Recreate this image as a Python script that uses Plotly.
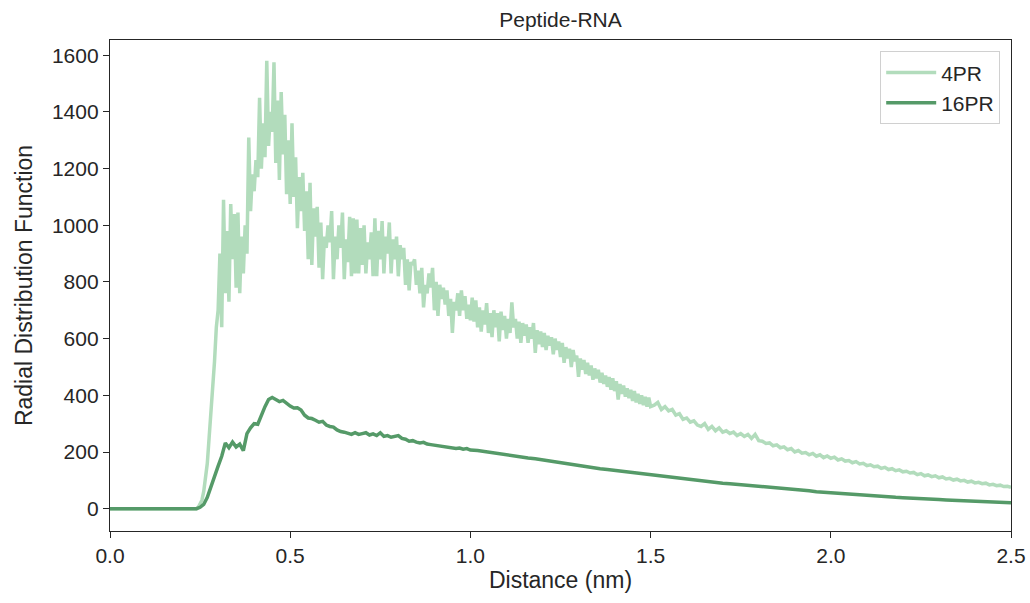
import numpy as np
import plotly.graph_objects as go

# radial distribution function
# 4PR: flat part, dense part (0.245-1.0 nm, step 0.005),
#      mid tail (1.005-1.5 nm, step 0.005), far tail (1.51-2.5 nm, step 0.01)
x_4pr_flat = [0.0, 0.24]
rdf_4pr_flat = [0, 0]
rdf_4pr_peak = [
    5, 15, 30, 60, 110, 160, 250, 330, 420, 520,
    640, 700, 900, 640, 1090, 760, 980, 730, 1075, 880,
    1040, 780, 1045, 760, 960, 830, 1000, 900, 1310, 1050,
    1180, 1120, 1230, 1170, 1450, 1200, 1360, 1240, 1580, 1280,
    1400, 1330, 1575, 1220, 1440, 1160, 1470, 1250, 1390, 1110,
    1300, 1075, 1360, 1100, 1240, 990, 1170, 1050, 1185, 980,
    1120, 880, 1150, 860, 1060, 960, 1065, 850, 1010, 810,
    960, 920, 1000, 940, 1050, 810, 960, 880, 1000, 920,
    1045, 810, 950, 870, 1030, 820, 1025, 830, 1020, 830,
    990, 860, 1000, 830, 940, 880, 975, 820, 1025, 820,
    980, 880, 1015, 830, 960, 900, 1010, 830, 950, 880,
    960, 820, 930, 880, 920, 790, 880, 770, 870, 860,
    880, 790, 840, 760, 850, 710, 790, 760, 830, 780,
    850, 700, 800, 680, 790, 740, 780, 720, 770, 680,
    740, 620, 730, 700, 760, 680, 770, 700, 750, 670,
    720, 665,
]
rdf_4pr_mid = [
    745, 660, 735, 640, 710, 625, 700, 650, 725, 620,
    690, 605, 700, 640, 690, 590, 695, 630, 680, 600,
    670, 620, 728, 640, 670, 600, 660, 585, 655, 610,
    650, 585, 640, 600, 655, 550, 630, 580, 625, 570,
    620, 560, 610, 575, 605, 545, 600, 560, 590, 535,
    585, 515, 570, 530, 565, 500, 560, 520, 540, 465,
    530, 490, 525, 475, 515, 470, 505, 455, 495, 460,
    490, 445, 480, 440, 470, 430, 465, 420, 460, 415,
    450, 385, 440, 405, 435, 395, 425, 390, 420, 380,
    415, 375, 405, 370, 400, 365, 395, 360, 392, 360,
]
rdf_4pr_tail = [
    365, 375, 350, 360, 345, 350, 330, 335, 315, 320,
    305, 310, 295, 290, 300, 280, 290, 275, 285, 270,
    275, 265, 270, 258, 265, 255, 262, 248, 262, 240,
    238, 230, 232, 222, 225, 215, 218, 208, 212, 200,
    205, 196, 198, 190, 195, 185, 190, 180, 186, 178,
    182, 172, 176, 168, 170, 162, 166, 158, 160, 152,
    155, 148, 150, 142, 146, 138, 141, 134, 137, 130,
    132, 126, 128, 120, 124, 116, 119, 113, 116, 109,
    112, 105, 107, 101, 104, 98, 100, 94, 97, 91,
    93, 88, 90, 84, 86, 81, 83, 78, 79, 75,
]

# 16PR: flat part, 0.25-1.0 nm (step 0.01), 1.02-2.5 nm (step 0.02)
x_16pr_flat = [0.0, 0.24]
rdf_16pr_flat = [0, 0]
rdf_16pr_peak = [
    5, 15, 40, 80, 115, 150, 185, 232, 215, 235,
    218, 228, 205, 265, 285, 300, 298, 330, 360, 385,
    392, 385, 378, 382, 370, 362, 355, 356, 348, 330,
    320, 318, 312, 305, 308, 295, 290, 288, 278, 272,
    270, 265, 262, 268, 262, 265, 268, 260, 264, 258,
    268, 255, 258, 252, 255, 258, 248, 245, 238, 240,
    235, 232, 234, 228, 226, 224, 222, 220, 218, 216,
    214, 212, 214, 210, 212, 207,
]
rdf_16pr_tail = [
    205, 201, 198, 195, 192, 187, 183, 179, 176, 172,
    169, 163, 159, 155, 151, 148, 145, 141, 138, 135,
    132, 128, 125, 121, 118, 115, 112, 108, 105, 103,
    100, 98, 95, 93, 90, 88, 86, 84, 82, 80,
    77, 75, 73, 70, 68, 65, 63, 60, 58, 55,
    53, 52, 50, 48, 47, 45, 43, 42, 40, 39,
    37, 36, 35, 33, 32, 31, 30, 29, 27, 26,
    25, 24, 23, 22, 21,
]


def grid(start, step, n):
    return list(np.round(start + step * np.arange(n), 4))


x_4pr = (x_4pr_flat + grid(0.245, 0.005, len(rdf_4pr_peak))
         + grid(1.005, 0.005, len(rdf_4pr_mid)) + grid(1.51, 0.01, len(rdf_4pr_tail)))
y_4pr = rdf_4pr_flat + rdf_4pr_peak + rdf_4pr_mid + rdf_4pr_tail
x_16pr = x_16pr_flat + grid(0.25, 0.01, len(rdf_16pr_peak)) + grid(1.02, 0.02, len(rdf_16pr_tail))
y_16pr = rdf_16pr_flat + rdf_16pr_peak + rdf_16pr_tail

INK = "#262626"
FONT = "Liberation Sans, Arial, sans-serif"

fig = go.Figure()
fig.add_trace(go.Scatter(x=x_4pr, y=y_4pr, mode="lines", name="4PR",
                         line=dict(color="#b2dcbc", width=3.5)))
fig.add_trace(go.Scatter(x=x_16pr, y=y_16pr, mode="lines", name="16PR",
                         line=dict(color="#559a68", width=3.5)))

axis_style = dict(showline=True, linecolor=INK, linewidth=1.3, mirror=True,
                  ticks="outside", ticklen=6, tickwidth=1.3, tickcolor=INK,
                  showgrid=False, zeroline=False, automargin=False,
                  tickfont=dict(size=21, color=INK, family=FONT))

fig.update_xaxes(range=[0, 2.5], tickvals=[0, 0.5, 1.0, 1.5, 2.0, 2.5], tickformat=".1f",
                 title=dict(text="Distance (nm)", font=dict(size=23, color=INK, family=FONT), standoff=5),
                 **axis_style)
fig.update_yaxes(range=[-78.75, 1653.75], tickvals=list(range(0, 1601, 200)),
                 title=dict(text="Radial Distribution Function", font=dict(size=23, color=INK, family=FONT), standoff=12),
                 **axis_style)

fig.update_layout(
    width=1030, height=603,
    margin=dict(l=110, r=19, t=40, b=72),
    plot_bgcolor="white", paper_bgcolor="white",
    font=dict(family=FONT, color=INK),
    title=dict(text="Peptide-RNA", x=0.5, xref="paper", xanchor="center",
               y=1 - 20 / 603, yref="container", yanchor="middle",
               font=dict(size=21, color=INK, family=FONT)),
    legend=dict(x=0.988, y=0.977, xanchor="right", yanchor="top", itemwidth=50,
                bordercolor="#d0d0d0", borderwidth=1, bgcolor="rgba(255,255,255,0.8)",
                font=dict(size=21, color=INK, family=FONT)),
)

# drop the default page margin so the figure sits at the window's corner
fig.write_html("out.html", config={"displayModeBar": False},
               post_script="document.body.style.margin='0';")
